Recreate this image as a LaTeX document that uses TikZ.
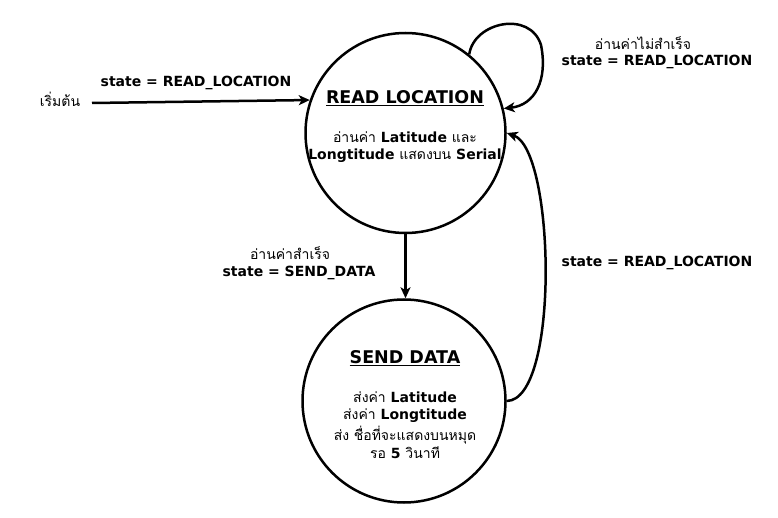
\documentclass[tikz,border=0pt]{standalone}
\usepackage{fontspec}
\setmainfont{DejaVu Sans}
\newfontfamily\thaifont[Script=Thai]{Loma}
\newcommand{\thtxt}[1]{{\thaifont\mdseries #1}}
\usetikzlibrary{arrows.meta}
\begin{document}
\begin{tikzpicture}[x=1pt,y=-1pt,
  lbl/.style={font=\bfseries\fontsize{14}{17}\selectfont, inner sep=0pt, align=center},
  ttl/.style={font=\bfseries\fontsize{17.5}{20}\selectfont, inner sep=0pt},
  stnode/.style={circle, draw, line width=2.5pt, minimum size=200pt, inner sep=0pt},
  arr/.style={line width=2.5pt, -{Stealth[length=11pt,width=10pt,inset=3pt]}}]
\path[use as bounding box, fill=white] (0,0) rectangle (778,518);

\node[stnode] (rl) at (405.5,133) {};
\node[stnode, minimum size=203pt] (sd) at (404,401) {};

\node[ttl] (rlt) at (405,98.5) {\underline{READ LOCATION}};
\node[lbl] (rl1) at (405,137) {\thtxt{อ่านค่า} Latitude \thtxt{และ}};
\node[lbl] (rl2) at (405,156) {Longtitude \thtxt{แสดงบน} Serial};

\node[ttl] (sdt) at (405,358) {\underline{SEND DATA}};
\node[lbl] (sd1) at (405,397) {\thtxt{ส่งค่า} Latitude};
\node[lbl] (sd2) at (405,416) {\thtxt{ส่งค่า} Longtitude};
\node[lbl] (sd3) at (405,435) {\thtxt{ส่ง ชื่อที่จะแสดงบนหมุด}};
\node[lbl] (sd4) at (405,453) {\thtxt{รอ} 5 \thtxt{วินาที}};

\node[lbl] (start) at (60,99) {\thtxt{เริ่มต้น}};
\coordinate (s0) at (92,103);
\draw[arr] (s0) -- (rl.161);
\node[lbl] (l1) at (196,83) {state = READ\_LOCATION};

\draw[arr] (rl.51) .. controls (474,22) and (530,10) .. (541,45)
  .. controls (548,80) and (535,105) .. (rl.14);
\node[lbl] (l2a) at (643,43.5) {\thtxt{อ่านค่าไม่สำเร็จ}};
\node[lbl] (l2b) at (657,62) {state = READ\_LOCATION};

\draw[arr] (rl.south) -- (rl.south |- sd.north);
\node[lbl] (l3a) at (290,253.5) {\thtxt{อ่านค่าสำเร็จ}};
\node[lbl] (l3b) at (299,273) {state = SEND\_DATA};

\draw[arr] (sd.east) .. controls (560,400) and (555,150) .. (rl.east);
\node[lbl] (l4) at (657,263) {state = READ\_LOCATION};
\end{tikzpicture}
\end{document}
